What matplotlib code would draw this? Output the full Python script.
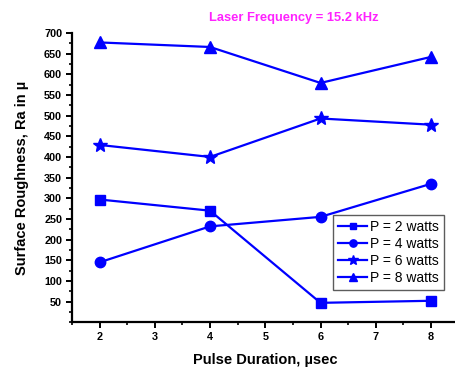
import matplotlib.pyplot as plt
from matplotlib.ticker import MultipleLocator

pulse_duration = [2, 4, 6, 8]
ra_2w = [297, 270, 47, 52]
ra_4w = [145, 232, 255, 335]
ra_6w = [429, 400, 493, 478]
ra_8w = [677, 666, 579, 642]
series_labels = ["P = 2 watts", "P = 4 watts", "P = 6 watts", "P = 8 watts"]
markers = ["s", "o", "*", "^"]
marker_sizes = [7, 7.5, 10, 8.5]

plt.rcParams['font.family'] = ['Liberation Sans', 'DejaVu Sans']

fig = plt.figure(figsize=(4.55, 3.70), dpi=100)
ax = fig.add_axes([0.158, 0.129, 0.85, 0.782])

blue = "#0000ff"
for vals, lab, mk, ms in zip([ra_2w, ra_4w, ra_6w, ra_8w], series_labels,
                             markers, marker_sizes):
    ax.plot(pulse_duration, vals, color=blue, lw=1.6, marker=mk, ms=ms,
            label=lab, clip_on=False)

ax.set_xlim(1.5, 8.5)
ax.set_ylim(0, 700)
ax.xaxis.set_major_locator(MultipleLocator(1))
ax.xaxis.set_minor_locator(MultipleLocator(0.5))
ax.yaxis.set_minor_locator(MultipleLocator(25))
ax.set_yticks(range(50, 701, 50))

for side in ("top", "right"):
    ax.spines[side].set_visible(False)
for side in ("left", "bottom"):
    ax.spines[side].set_linewidth(1.6)

ax.tick_params(which="major", direction="out", length=4, width=1.4,
               labelsize=7.8, pad=3)
ax.tick_params(which="minor", direction="out", length=2.5, width=1.2)
for t in ax.get_xticklabels() + ax.get_yticklabels():
    t.set_fontweight("bold")

ax.set_xlabel("Pulse Duration, µsec", fontsize=10.5, fontweight="bold", labelpad=8)
ax.set_ylabel("Surface Roughness, Ra in µ", fontsize=10.5, fontweight="bold", labelpad=11)

fig.text(0.645, 0.952, "Laser Frequency = 15.2 kHz", color="#ff22ff",
         fontsize=9.3, fontweight="bold", ha="center", va="center")

leg = ax.legend(loc="lower right", bbox_to_anchor=(0.962, 0.112), fontsize=10,
                frameon=True, fancybox=False, edgecolor="#333333",
                handlelength=2.1, handletextpad=0.2, borderpad=0.35,
                labelspacing=0.22, markerscale=0.7, borderaxespad=0)
leg.get_frame().set_linewidth(1.0)

fig.savefig("out.png", dpi=100)
